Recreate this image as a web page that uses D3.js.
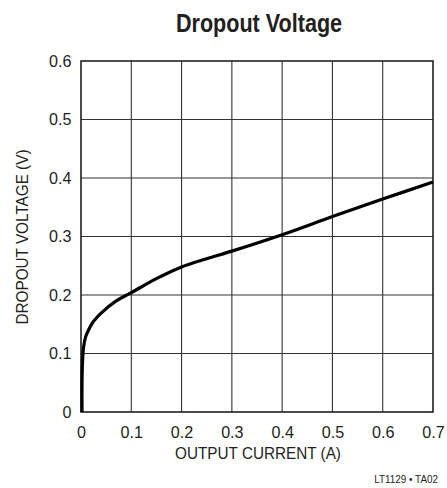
<!DOCTYPE html>
<html><head><meta charset="utf-8">
<script src="https://cdn.jsdelivr.net/npm/d3@7"></script>
<style>
body{margin:0;background:#fff;}
text{font-family:"Liberation Sans",Arial,sans-serif;fill:#231f20;}
</style></head><body>
<svg id="c" width="447" height="488"></svg>
<script>
const currentA = [0.002,0.002,0.003,0.005,0.009,0.016,0.025,0.04,0.07,0.1,0.15,0.2,0.25,0.3,0.4,0.5,0.6,0.7];
const dropoutV = [0,0.05,0.085,0.11,0.128,0.142,0.155,0.169,0.19,0.204,0.228,0.248,0.262,0.275,0.303,0.334,0.364,0.393];
const xTicks = [0,0.1,0.2,0.3,0.4,0.5,0.6,0.7];
const yTicks = [0,0.1,0.2,0.3,0.4,0.5,0.6];
const xTickLabels = ["0","0.1","0.2","0.3","0.4","0.5","0.6","0.7"];
const yTickLabels = ["0","0.1","0.2","0.3","0.4","0.5","0.6"];

const svg = d3.select("#c");
const L=81,R=433,T=61,B=412;
const x = d3.scaleLinear().domain([0,0.7]).range([L,R]);
const y = d3.scaleLinear().domain([0,0.6]).range([B,T]);

// grid
svg.append("g").selectAll("line").data(xTicks.slice(1,-1)).join("line")
  .attr("x1",d=>x(d)).attr("x2",d=>x(d)).attr("y1",T).attr("y2",B)
  .attr("stroke","#333").attr("stroke-width",1.1);
svg.append("g").selectAll("line").data(yTicks.slice(1,-1)).join("line")
  .attr("y1",d=>y(d)).attr("y2",d=>y(d)).attr("x1",L).attr("x2",R)
  .attr("stroke","#333").attr("stroke-width",1.1);
svg.append("rect").attr("x",L).attr("y",T).attr("width",R-L).attr("height",B-T)
  .attr("fill","none").attr("stroke","#231f20").attr("stroke-width",1.6);

// axes via d3
const xAxis = d3.axisBottom(x).tickValues(xTicks).tickSize(0).tickPadding(14)
  .tickFormat((d,i)=>xTickLabels[i]);
const gx = svg.append("g").attr("transform",`translate(0,${B})`).call(xAxis);
gx.select(".domain").remove();
gx.selectAll("text").attr("font-size",17).attr("font-family",null).attr("fill","#231f20")
  .attr("transform","scale(0.95,1)");

const yAxis = d3.axisLeft(y).tickValues(yTicks).tickSize(0).tickPadding(10)
  .tickFormat((d,i)=>yTickLabels[i]);
const gy = svg.append("g").attr("transform",`translate(${L},0)`).call(yAxis);
gy.select(".domain").remove();
gy.selectAll("text").attr("font-size",17).attr("font-family",null).attr("fill","#231f20")
  .attr("transform","scale(0.95,1)");

// curve
const pts = currentA.map((c,i)=>[c,dropoutV[i]]);
svg.append("path").datum(pts)
  .attr("d",d3.line().x(d=>x(d[0])).y(d=>y(d[1])).curve(d3.curveCatmullRom.alpha(0.5)))
  .attr("fill","none").attr("stroke","#000").attr("stroke-width",3.2)
  .attr("stroke-linejoin","round");

// titles
svg.append("text").attr("transform","translate(259,32) scale(0.83,1)").attr("text-anchor","middle")
  .attr("font-size",26).attr("font-weight","bold").text("Dropout Voltage");
svg.append("text").attr("transform","translate(258,459) scale(0.9,1)").attr("text-anchor","middle")
  .attr("font-size",17).text("OUTPUT CURRENT (A)");
svg.append("text").attr("transform","translate(28,237) rotate(-90) scale(0.9,1)").attr("text-anchor","middle")
  .attr("font-size",17).text("DROPOUT VOLTAGE (V)");
svg.append("text").attr("transform","translate(438,483) scale(0.9,1)").attr("text-anchor","end")
  .attr("font-size",11).text("LT1129 • TA02");
</script>
</body></html>
